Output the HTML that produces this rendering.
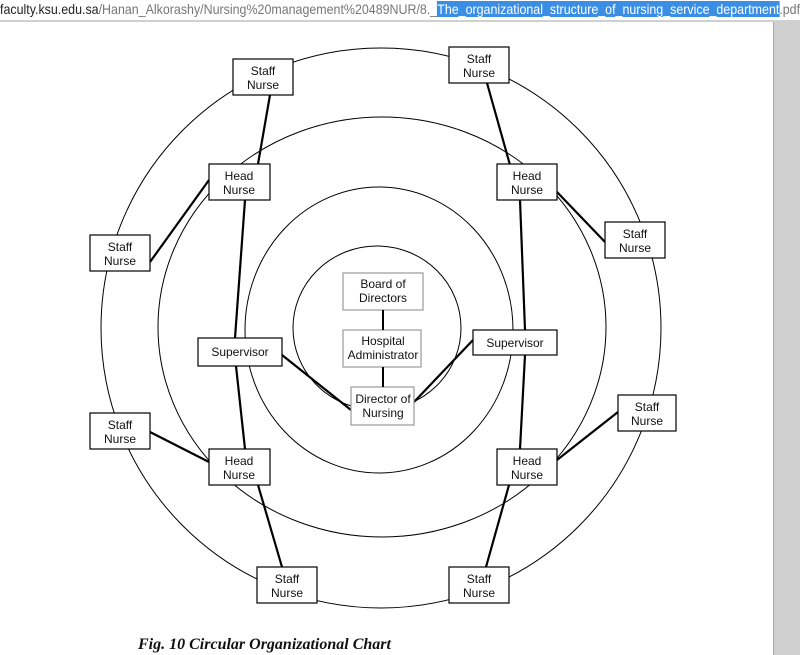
<!DOCTYPE html>
<html><head><meta charset="utf-8"><style>
html,body{margin:0;padding:0;background:#fff;width:800px;height:655px;overflow:hidden;font-family:"Liberation Sans",sans-serif}
#bar{position:absolute;left:0;top:0;width:800px;height:20px;background:#fff;border-bottom:2px solid #d0d0d0;overflow:hidden}
#bar div{font-size:14px;line-height:19px;white-space:nowrap;color:#777;transform:scaleX(0.888);transform-origin:0 0;display:inline-block}
#bar b{font-weight:normal;color:#222}
#bar span.h{background:#3a8ee6;color:#fff}
#side{position:absolute;left:773px;top:22px;width:27px;height:633px;background:#cfcfcf;border-left:1px solid #aaa}
svg{position:absolute;left:0;top:0}
</style></head><body>
<div id="bar"><div><b>faculty.ksu.edu.sa</b>/Hanan_Alkorashy/Nursing%20management%20489NUR/8._<span class="h">The_organizational_structure_of_nursing_service_department</span>.pdf</div></div>
<div id="side"></div>
<svg width="773" height="655" viewBox="0 0 773 655" style="top:0">
<g fill="none" stroke="#000" stroke-width="1">
<ellipse cx="381" cy="328" rx="280" ry="280"/>
<ellipse cx="382" cy="327" rx="224" ry="210"/>
<ellipse cx="379" cy="330" rx="134" ry="143"/>
<ellipse cx="377" cy="328" rx="84" ry="82"/>
</g>
<g stroke="#000" stroke-width="2.2">
<line x1="270" y1="95" x2="258" y2="164"/>
<line x1="245" y1="200" x2="235" y2="338"/>
<line x1="236" y1="366" x2="245" y2="449"/>
<line x1="258" y1="485" x2="282" y2="567"/>
<line x1="150" y1="262" x2="209" y2="180"/>
<line x1="150" y1="432" x2="209" y2="462"/>
<line x1="282" y1="355" x2="351" y2="410"/>
<line x1="473" y1="340" x2="414" y2="402"/>
<line x1="487" y1="83" x2="510" y2="165"/>
<line x1="520" y1="200" x2="525" y2="330"/>
<line x1="525" y1="355" x2="520" y2="449"/>
<line x1="509" y1="485" x2="486" y2="567"/>
<line x1="557" y1="192" x2="605" y2="242"/>
<line x1="557" y1="460" x2="618" y2="412"/>
</g>
<g stroke="#000" stroke-width="1.2" fill="#fff">
<rect x="233" y="59" width="60" height="36"/>
<rect x="449" y="47" width="60" height="36"/>
<rect x="209" y="164" width="61" height="36"/>
<rect x="497" y="164" width="60" height="36"/>
<rect x="90" y="235" width="60" height="36"/>
<rect x="605" y="222" width="60" height="36"/>
<rect x="198" y="338" width="84" height="28"/>
<rect x="473" y="330" width="84" height="25"/>
<rect x="90" y="413" width="60" height="36"/>
<rect x="618" y="395" width="58" height="36"/>
<rect x="209" y="449" width="61" height="36"/>
<rect x="497" y="449" width="60" height="36"/>
<rect x="257" y="567" width="60" height="36"/>
<rect x="449" y="567" width="60" height="36"/>
</g>
<g stroke="#999" stroke-width="1.2" fill="#fff">
<rect x="343" y="273" width="80" height="37"/>
<rect x="343" y="330" width="78" height="37"/>
<rect x="351" y="387" width="63" height="38"/>
</g>
<g stroke="#000" stroke-width="2"><line x1="383" y1="310" x2="383" y2="330"/><line x1="383" y1="367" x2="383" y2="387"/></g>
<g font-family="Liberation Sans, sans-serif" font-size="12" text-anchor="middle" fill="#111">
<text x="263" y="75">Staff</text><text x="263" y="89">Nurse</text>
<text x="479" y="63">Staff</text><text x="479" y="77">Nurse</text>
<text x="239" y="180">Head</text><text x="239" y="194">Nurse</text>
<text x="527" y="180">Head</text><text x="527" y="194">Nurse</text>
<text x="120" y="251">Staff</text><text x="120" y="265">Nurse</text>
<text x="635" y="238">Staff</text><text x="635" y="252">Nurse</text>
<text x="240" y="356">Supervisor</text>
<text x="515" y="347">Supervisor</text>
<text x="120" y="429">Staff</text><text x="120" y="443">Nurse</text>
<text x="647" y="411">Staff</text><text x="647" y="425">Nurse</text>
<text x="239" y="465">Head</text><text x="239" y="479">Nurse</text>
<text x="527" y="465">Head</text><text x="527" y="479">Nurse</text>
<text x="287" y="583">Staff</text><text x="287" y="597">Nurse</text>
<text x="479" y="583">Staff</text><text x="479" y="597">Nurse</text>
<text x="383" y="288">Board of</text><text x="383" y="302">Directors</text>
<text x="383" y="345">Hospital</text><text x="383" y="359">Administrator</text>
<text x="383" y="403">Director of</text><text x="383" y="417">Nursing</text>
</g>
<text x="138" y="649" font-family="Liberation Serif, serif" font-size="16" font-weight="bold" font-style="italic" fill="#111">Fig. 10 Circular Organizational Chart</text>
</svg>
</body></html>
